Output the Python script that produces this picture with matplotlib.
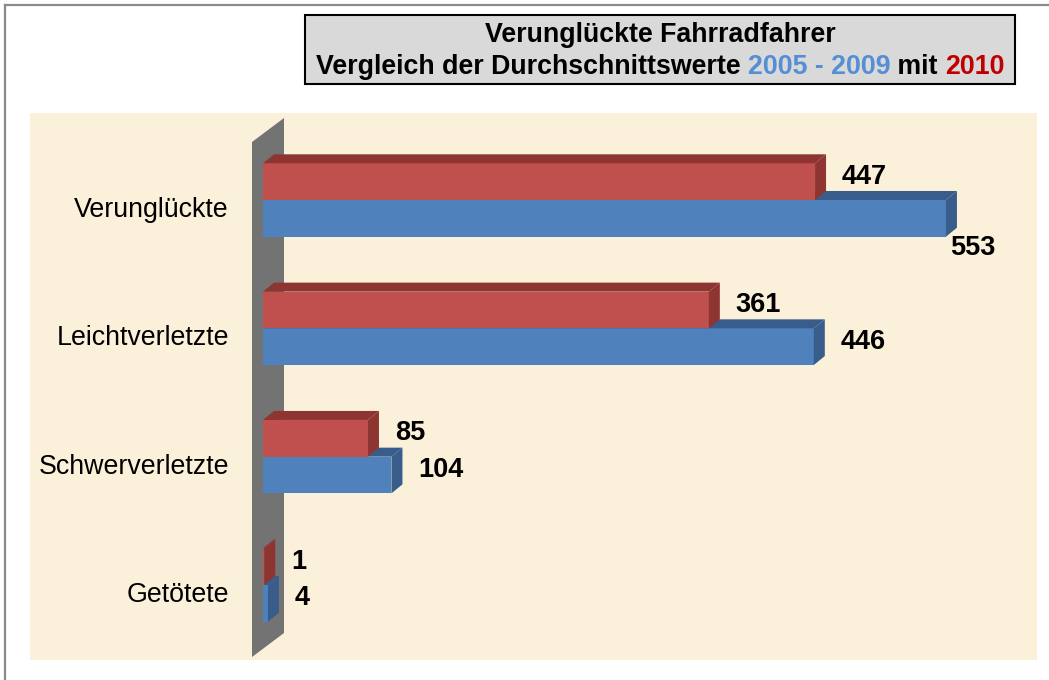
import matplotlib
matplotlib.use("Agg")
import matplotlib.pyplot as plt
from matplotlib.patches import Polygon, Rectangle
from matplotlib.lines import Line2D
import numpy as np

plt.rcParams['font.family'] = ['Liberation Sans', 'DejaVu Sans']

# ---------------- data ----------------
categories = ["Verunglückte", "Leichtverletzte", "Schwerverletzte", "Getötete"]
values_2010 = [447, 361, 85, 1]
values_avg = [553, 446, 104, 4]
title_line1 = "Verunglückte Fahrradfahrer"
title_line2 = [("Vergleich der Durchschnittswerte ", "#000000"),
               ("2005 - 2009", "#558ed5"),
               (" mit ", "#000000"),
               ("2010", "#c00000")]

# ---------------- style / layout ----------------
W, H = 1049, 680
RED_FRONT, RED_DARK = "#c0504d", "#8e3532"
BLUE_FRONT, BLUE_DARK = "#4f81bd", "#385d8a"
PARCHMENT = "#fbf0d9"
WALL = "#737373"

AX_L, AX_R, AX_T, AX_B = 30, 1037, 113, 660   # plot area in pixels
X0_PX, PX_PER_UNIT = 263, 1.235
C0_PX, ROW_PX = 200, 128.33
BAR_PX = 36.7
DEPTH_X, DEPTH_Y = 11, 9                       # 3D depth offset (px)

def px2x(px):
    return (px - X0_PX) / PX_PER_UNIT

def px2y(py):
    return (py - C0_PX) / ROW_PX

fig = plt.figure(figsize=(W / 100, H / 100), dpi=100)
fig.patch.set_facecolor("white")

# outer grey frame
fig.add_artist(Line2D([5 / W, 5 / W], [0, 1 - 5 / H], color="#8a8a8a", lw=1.6,
                      transform=fig.transFigure))
fig.add_artist(Line2D([5 / W, 1], [1 - 5 / H, 1 - 5 / H], color="#8a8a8a", lw=1.6,
                      transform=fig.transFigure))

# plot axes
ax = fig.add_axes([AX_L / W, 1 - AX_B / H, (AX_R - AX_L) / W, (AX_B - AX_T) / H])
ax.set_facecolor(PARCHMENT)
ax.set_xlim(px2x(AX_L), px2x(AX_R))
ax.set_ylim(px2y(AX_B), px2y(AX_T))
for s in ax.spines.values():
    s.set_visible(False)
ax.set_xticks([])

# wall
wall = Polygon([(px2x(252), px2y(142)), (px2x(284), px2y(118)),
                (px2x(284), px2y(633)), (px2x(252), px2y(657))],
               closed=True, facecolor=WALL, edgecolor="none", zorder=1)
ax.add_patch(wall)

pos = np.arange(len(categories))
h = BAR_PX / ROW_PX
ddx = DEPTH_X / PX_PER_UNIT
ddy = -DEPTH_Y / ROW_PX


def draw_3d(bars, dark, z):
    for b in bars:
        b.set_zorder(z)
        x0, y0 = b.get_x(), b.get_y()
        x1, y1 = x0 + b.get_width(), y0 + b.get_height()
        top = Polygon([(x0, y0), (x1, y0), (x1 + ddx, y0 + ddy), (x0 + ddx, y0 + ddy)],
                      closed=True, facecolor=dark, edgecolor="none", zorder=z)
        side = Polygon([(x1, y0), (x1 + ddx, y0 + ddy), (x1 + ddx, y1 + ddy), (x1, y1)],
                       closed=True, facecolor=dark, edgecolor="none", zorder=z)
        ax.add_patch(top)
        ax.add_patch(side)


bars_avg = ax.barh(pos + h / 2, values_avg, height=h, color=BLUE_FRONT, edgecolor="none")
draw_3d(bars_avg, BLUE_DARK, 2)
bars_10 = ax.barh(pos - h / 2, values_2010, height=h, color=RED_FRONT, edgecolor="none")
draw_3d(bars_10, RED_DARK, 3)

# value labels (offsets in px: right, up)
default_off = (27, 5)
special_off = {("avg", 0): (4, -30)}
VFS = 19.5
for i, v in enumerate(values_2010):
    off = special_off.get(("2010", i), default_off)
    ax.annotate(str(v), xy=(v, pos[i] - h / 2), xytext=(off[0] * 0.72, off[1] * 0.72),
                textcoords="offset points", ha="left", va="center",
                fontsize=VFS, fontweight="bold", color="black", zorder=5)
for i, v in enumerate(values_avg):
    off = special_off.get(("avg", i), default_off)
    ax.annotate(str(v), xy=(v, pos[i] + h / 2), xytext=(off[0] * 0.72, off[1] * 0.72),
                textcoords="offset points", ha="left", va="center",
                fontsize=VFS, fontweight="bold", color="black", zorder=5)

# category labels
ax.spines['left'].set_position(('data', px2x(252)))
ax.set_yticks(pos + 7 / ROW_PX)
ax.set_yticklabels(categories, fontsize=19.3)
ax.tick_params(axis="y", length=0, pad=(252 - 229) * 0.72)

# title box
fig.add_artist(Rectangle((305 / W, 1 - 84 / H), (1015 - 305) / W, (84 - 15) / H,
                         transform=fig.transFigure, facecolor="#d9d9d9",
                         edgecolor="black", lw=1.5))
TFS = 19.3
fig.text(660 / W, 1 - 42 / H, title_line1, ha="center", va="baseline",
         fontsize=TFS, fontweight="bold", transform=fig.transFigure)

renderer = fig.canvas.get_renderer()
pieces = []
for s, c in title_line2:
    t = fig.text(0, 1 - 74 / H, s, ha="left", va="baseline", fontsize=TFS,
                 fontweight="bold", color=c, transform=fig.transFigure)
    pieces.append(t)
widths = [p.get_window_extent(renderer).width for p in pieces]
total = sum(widths)
x = 660 - total / 2
for p, w in zip(pieces, widths):
    p.set_x(x / W)
    x += w

fig.savefig("out.png", dpi=100)
